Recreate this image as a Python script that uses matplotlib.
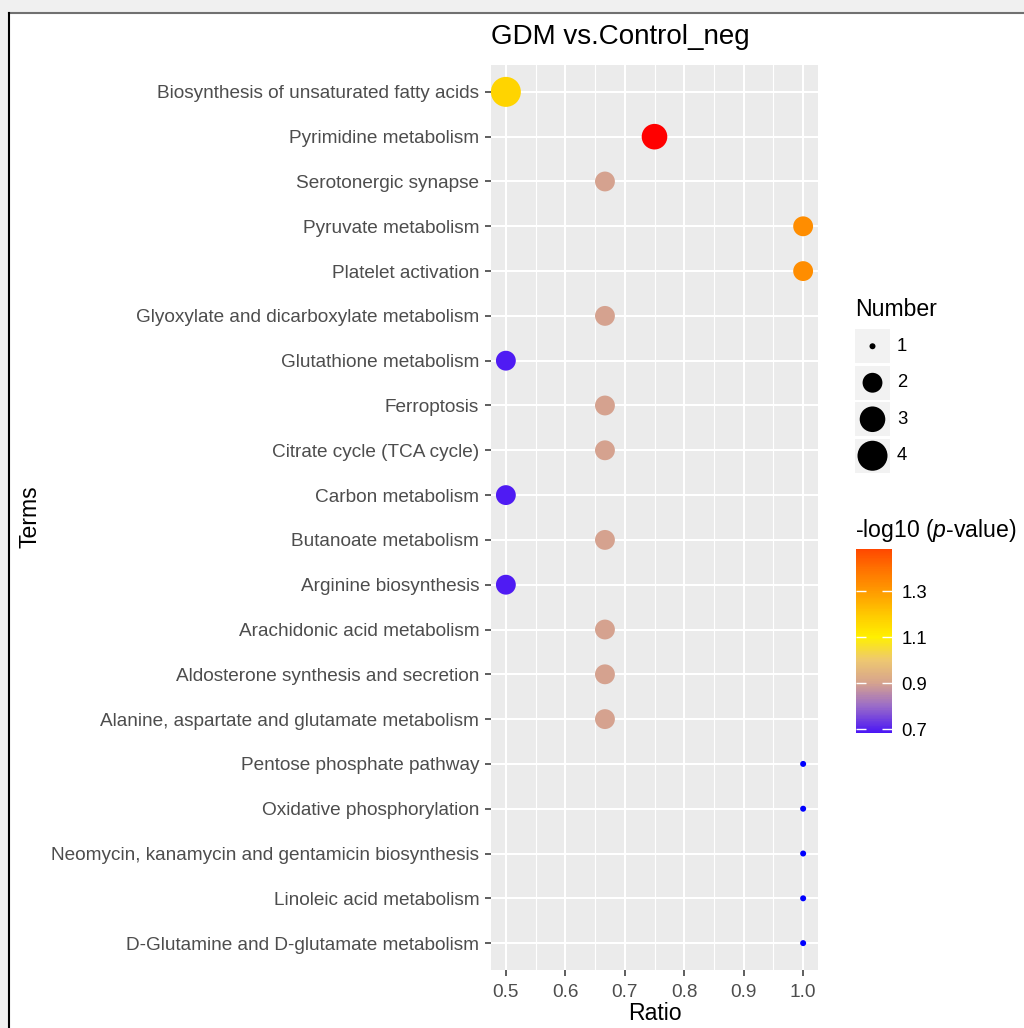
import numpy as np
import matplotlib
matplotlib.use("Agg")
import matplotlib.pyplot as plt
from matplotlib.colors import LinearSegmentedColormap, Normalize
from matplotlib.cm import ScalarMappable
from matplotlib.patches import Rectangle
from matplotlib.lines import Line2D

plt.rcParams['font.family'] = ['Liberation Sans', 'DejaVu Sans']
plt.rcParams['mathtext.fontset'] = 'custom'
plt.rcParams['mathtext.rm'] = 'Liberation Sans'
plt.rcParams['mathtext.it'] = 'Liberation Sans:italic'

# data, top to bottom as shown
terms = ["Biosynthesis of unsaturated fatty acids", "Pyrimidine metabolism",
         "Serotonergic synapse", "Pyruvate metabolism", "Platelet activation",
         "Glyoxylate and dicarboxylate metabolism", "Glutathione metabolism",
         "Ferroptosis", "Citrate cycle (TCA cycle)", "Carbon metabolism",
         "Butanoate metabolism", "Arginine biosynthesis",
         "Arachidonic acid metabolism", "Aldosterone synthesis and secretion",
         "Alanine, aspartate and glutamate metabolism", "Pentose phosphate pathway",
         "Oxidative phosphorylation", "Neomycin, kanamycin and gentamicin biosynthesis",
         "Linoleic acid metabolism", "D-Glutamine and D-glutamate metabolism"]
ratio = [0.5, 0.75, 2/3, 1.0, 1.0, 2/3, 0.5, 2/3, 2/3, 0.5,
         2/3, 0.5, 2/3, 2/3, 2/3, 1.0, 1.0, 1.0, 1.0, 1.0]
number = [4, 3, 2, 2, 2, 2, 2, 2, 2, 2, 2, 2, 2, 2, 2, 1, 1, 1, 1, 1]
logp = [1.17, 1.55, 0.90, 1.33, 1.33, 0.90, 0.69, 0.90, 0.90, 0.69,
        0.90, 0.69, 0.90, 0.90, 0.90, 0.60, 0.60, 0.60, 0.60, 0.60]

# colour scale, sampled from the colour bar
cvals = [0.60, 0.683, 0.80, 0.90, 1.00, 1.10, 1.20, 1.30, 1.40, 1.483, 1.55]
ccols = ["#0000FF", "#4B16F5", "#9A6CC8", "#D6A38E", "#EEC870", "#FFF000",
         "#FFC800", "#FF9A00", "#FF7000", "#FF4800", "#FF0000"]
bar_lo, bar_hi = 0.683, 1.483
cticks = [0.7, 0.9, 1.1, 1.3]
size_breaks = [1, 2, 3, 4]

W, H = 1024, 1028
def box(l, t, r, b):
    # pixel box -> figure fractions
    return [l / W, 1 - b / H, (r - l) / W, (b - t) / H]

def dot_size(n):
    # area palette like ggplot: diameter 6..30 px
    x = (np.asarray(n, float) - 1) / 3
    d = 6 + 24 * np.sqrt(x)
    return (d * 72 / 100) ** 2

norm = Normalize(cvals[0], cvals[-1])
cmap = LinearSegmentedColormap.from_list(
    "pv", list(zip([(v - cvals[0]) / (cvals[-1] - cvals[0]) for v in cvals], ccols)))

fig = plt.figure(figsize=(W / 100, H / 100), dpi=100)

# screenshot frame
fig.add_artist(Rectangle((0, 1 - 12 / H), 1, 12 / H, transform=fig.transFigure,
                         facecolor="#F0F0F0", edgecolor="none"))
fig.add_artist(Rectangle((0, 0), 8 / W, 1, transform=fig.transFigure,
                         facecolor="#F0F0F0", edgecolor="none"))
fig.add_artist(Line2D([8.5 / W, 1], [1 - 12.5 / H] * 2, transform=fig.transFigure,
                      color="#707070", lw=1.5))
fig.add_artist(Line2D([8.5 / W] * 2, [0, 1 - 12.5 / H], transform=fig.transFigure,
                      color="black", lw=1.5))

ax = fig.add_axes(box(491, 65, 818, 970))
ax.set_facecolor("#EBEBEB")
y = np.arange(len(terms))[::-1]
ax.scatter(ratio, y, s=dot_size(number), c=logp, cmap=cmap, norm=norm,
           linewidths=0, zorder=3)
ax.set_xlim(0.475, 1.025)
ax.set_ylim(-0.6, len(terms) - 0.4)
ax.set_yticks(y)
ax.set_yticklabels(terms)
xt = np.arange(0.5, 1.01, 0.1)
ax.set_xticks(xt)
ax.set_xticklabels(["%.1f" % v for v in xt])
ax.set_xticks(np.arange(0.55, 1.0, 0.1), minor=True)
ax.grid(which="major", color="white", lw=1.5)
ax.grid(which="minor", axis="x", color="white", lw=0.8)
ax.set_axisbelow(True)
for sp in ax.spines.values():
    sp.set_visible(False)
ax.tick_params(which="major", length=4, width=1.1, color="#333333",
               labelsize=13.65, labelcolor="#4D4D4D")
ax.tick_params(axis="y", pad=4.5)
ax.tick_params(axis="x", pad=6)
ax.tick_params(which="minor", length=0)

fig.text(491 / W, 1 - 37 / H, "GDM vs.Control_neg", fontsize=20, ha="left", va="center")
fig.text(655 / W, 1 - 1014 / H, "Ratio", fontsize=16.6, ha="center", va="center")
fig.text(30 / W, 1 - 517 / H, "Terms", fontsize=16.6, ha="center", va="center", rotation=90)

# size legend
lg = fig.add_axes(box(855, 328, 890, 474))
lg.set_xlim(0, 1)
lg.set_ylim(len(size_breaks) - 0.5, -0.5)
lg.axis("off")
for i, b in enumerate(size_breaks):
    lg.add_patch(Rectangle((0, i - 0.47), 1, 0.94, facecolor="#F2F2F2", edgecolor="none"))
    lg.text(1.2, i, str(b), fontsize=13.3, va="center", ha="left")
lg.scatter([0.5] * len(size_breaks), range(len(size_breaks)), s=dot_size(size_breaks),
           color="black", linewidths=0, clip_on=False, zorder=3)
fig.text(855 / W, 1 - 310 / H, "Number", fontsize=16.6, va="center", ha="left")

# colour bar
cax = fig.add_axes(box(856, 549, 892, 733))
sm = ScalarMappable(norm=norm, cmap=cmap)
cb = fig.colorbar(sm, cax=cax, boundaries=np.linspace(bar_lo, bar_hi, 300), ticks=cticks)
cb.outline.set_visible(False)
cb.set_ticklabels(["%.1f" % v for v in cticks])
cax.tick_params(direction="in", color="white", length=7, width=1, left=True,
                right=True, labelsize=13.3, pad=7)
fig.text(855 / W, 1 - 530 / H, "-log10 ($\\it{p}$-value)", fontsize=16.6,
         va="center", ha="left")

fig.savefig("out.png", dpi=100)
